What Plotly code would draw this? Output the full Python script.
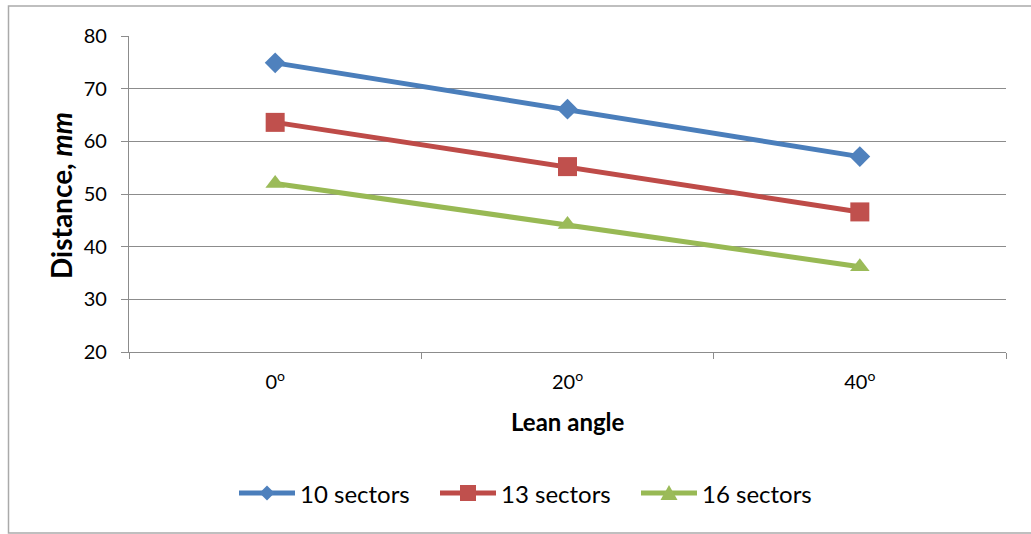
import plotly.graph_objects as go

# Lean angle categories and measured distances (mm)
angles = ["0°", "20°", "40°"]
angle_labels = ["0<sup>o</sup>", "20<sup>o</sup>", "40<sup>o</sup>"]
sectors_10 = [74.9, 66.1, 57.1]
sectors_13 = [63.6, 55.2, 46.6]
sectors_16 = [52.0, 44.2, 36.2]
y_ticks = [20, 30, 40, 50, 60, 70, 80]

FONT = "Lato, 'Open Sans', sans-serif"
GRID = "#8c8c8c"

# plot-area geometry in pixels (used to place the hand-drawn legend)
W, H = 1031, 534
L, R, T, B = 129, 25, 36, 182
PW, PH = W - L - R, H - T - B


def px_x(x):
    return (x - L) / PW


def px_y(y):
    return (H - B - y) / PH


def path(points):
    return "M " + " L ".join(f"{px_x(x):.5f},{px_y(y):.5f}" for x, y in points) + " Z"


def legend_marker(kind, cx, cy):
    if kind == "diamond":
        r = 7.5
        pts = [(cx, cy - r), (cx + r, cy), (cx, cy + r), (cx - r, cy)]
    elif kind == "square":
        r = 8
        pts = [(cx - r, cy - r), (cx + r, cy - r), (cx + r, cy + r), (cx - r, cy + r)]
    else:
        pts = [(cx, cy - 8), (cx + 8.5, cy + 7), (cx - 8.5, cy + 7)]
    return path(pts)


series = [
    ("10 sectors", sectors_10, "#4A7EBB", "#4F81BD", "diamond", 16),
    ("13 sectors", sectors_13, "#BE4B48", "#C0504D", "square", 19),
    ("16 sectors", sectors_16, "#98B954", "#9BBB59", "triangle-up", 17),
]

fig = go.Figure()
for name, vals, line_c, mark_c, sym, size in series:
    fig.add_trace(go.Scatter(
        x=angles, y=vals, name=name, mode="lines+markers",
        line=dict(color=line_c, width=5),
        marker=dict(symbol=sym, size=size, color=mark_c, line=dict(width=0)),
        showlegend=False,
    ))

shapes = [
    # outer chart frame
    dict(type="rect", xref="paper", yref="paper",
         x0=px_x(8.5), x1=px_x(1060), y0=px_y(533), y1=px_y(6),
         line=dict(color="#aaaaaa", width=1.5), fillcolor="rgba(0,0,0,0)",
         layer="below"),
]
annotations = [
    dict(text="<b>Lean angle</b>", xref="paper", yref="paper",
         x=0.5, y=px_y(421), xanchor="center", yanchor="middle",
         showarrow=False, font=dict(family=FONT, size=24, color="#000")),
    dict(text="<b>Distance, <i>mm</i></b>", xref="paper", yref="paper",
         x=px_x(61), y=px_y(196), xanchor="center", yanchor="middle",
         textangle=-90, showarrow=False,
         font=dict(family=FONT, size=28, color="#000")),
]

# Legend row: line segment + marker + label per series
leg_y = 493
leg_x0 = 239
leg_step = 201
leg_line = 56
for i, (name, _, line_c, mark_c, sym, _) in enumerate(series):
    x0 = leg_x0 + i * leg_step
    shapes.append(dict(type="line", xref="paper", yref="paper",
                       x0=px_x(x0), x1=px_x(x0 + leg_line),
                       y0=px_y(leg_y), y1=px_y(leg_y),
                       line=dict(color=line_c, width=5)))
    shapes.append(dict(type="path", xref="paper", yref="paper",
                       path=legend_marker(sym, x0 + leg_line / 2, leg_y),
                       fillcolor=mark_c, line=dict(width=0)))
    annotations.append(dict(text=name, xref="paper", yref="paper",
                            x=px_x(x0 + leg_line + 3), y=px_y(leg_y),
                            xanchor="left", yanchor="middle", showarrow=False,
                            font=dict(family=FONT, size=24, color="#000")))

fig.update_layout(
    width=W, height=H,
    margin=dict(l=L, r=R, t=T, b=B),
    paper_bgcolor="white", plot_bgcolor="white",
    font=dict(family=FONT, size=20, color="#000000"),
    showlegend=False,
    shapes=shapes,
    annotations=annotations,
    xaxis=dict(
        type="category", categoryorder="array", categoryarray=angles,
        range=[-0.5, 2.5], tickvals=angles, ticktext=angle_labels,
        tickson="boundaries", ticks="outside", ticklen=6, tickwidth=1.3,
        tickcolor=GRID, showgrid=False, showline=True, linecolor=GRID,
        linewidth=1.3, zeroline=False, ticklabelstandoff=12,
        tickfont=dict(family=FONT, size=20, color="#000"),
    ),
    yaxis=dict(
        range=[20, 80], tickvals=y_ticks, ticks="outside", ticklen=7,
        tickwidth=1.3, tickcolor=GRID, showgrid=True, gridcolor=GRID,
        gridwidth=1.3, showline=True, linecolor=GRID, linewidth=1.3,
        zeroline=False, ticklabelstandoff=10,
        tickfont=dict(family=FONT, size=20, color="#000"),
    ),
)

fig.write_html("out.html")
